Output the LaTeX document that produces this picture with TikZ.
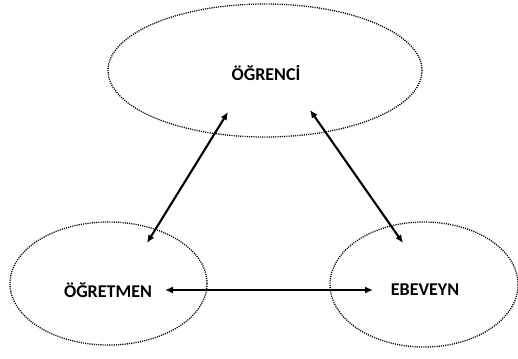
\documentclass[tikz,border=0pt]{standalone}
\usepackage{fontspec}
\setmainfont{Carlito}
\usetikzlibrary{shapes.geometric,arrows.meta}
\begin{document}
\begin{tikzpicture}[x=1pt,y=-1pt,
  bubble/.style={draw, ellipse, line width=1.3pt, dash pattern=on 1.1pt off 1.1pt, inner sep=0pt},
  label/.style={font=\fontsize{18}{20}\selectfont\bfseries, inner sep=0pt},
  link/.style={{Latex[length=8pt,width=7pt]}-{Latex[length=8pt,width=7pt]}, line width=2.1pt}]
  \useasboundingbox (0,0) rectangle (518,358);
  % the three circles of the relationship
  \node[bubble, minimum width=314pt, minimum height=133pt] (student) at (265,70.5) {};
  \node[bubble, minimum width=197pt, minimum height=123pt] (teacher) at (108.5,283.5) {};
  \node[bubble, minimum width=188pt, minimum height=125pt] (parent) at (424,284.5) {};
  % labels
  \node[label] (tS) at (266,73) {ÖĞRENCİ};
  \node[label] (tT) at (108,290) {ÖĞRETMEN};
  \node[label] (tP) at (425,290) {EBEVEYN};
  % arrow end points
  \coordinate (s1) at (228,112);
  \coordinate (t1) at (147,243);
  \coordinate (s2) at (310,110);
  \coordinate (p1) at (403,243);
  \coordinate (t2) at (165,290);
  \coordinate (p2) at (373,290);
  \draw[link] (s1) -- (t1);
  \draw[link] (s2) -- (p1);
  \draw[link] (t2) -- (p2);
\end{tikzpicture}
\end{document}
